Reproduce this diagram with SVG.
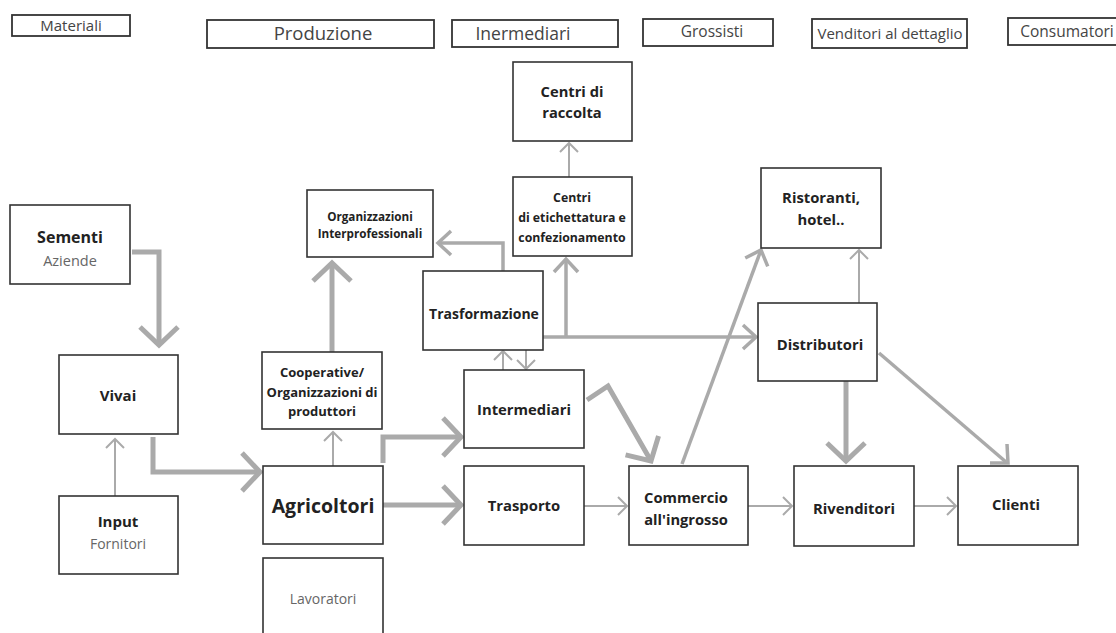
<svg xmlns="http://www.w3.org/2000/svg" width="1116" height="633" viewBox="0 0 1116 633">
<style>
.box{fill:#fff;stroke:#333;stroke-width:1.6}
.hbox{fill:#fff;stroke:#333;stroke-width:1.8}
.ht{font-family:"Open Sans","Liberation Sans",sans-serif;fill:#444;text-anchor:middle}
.t{font-family:"Open Sans","Liberation Sans",sans-serif;font-weight:bold;fill:#222;text-anchor:middle}
.s{font-family:"Open Sans","Liberation Sans",sans-serif;fill:#666;text-anchor:middle}
.c{fill:none;stroke:#aaa;stroke-linejoin:miter}
.k{stroke-width:5}
.m{stroke-width:3.5}
.n{stroke-width:2}
</style>
<defs>
<marker id="big" markerUnits="userSpaceOnUse" markerWidth="60" markerHeight="60" viewBox="-30 -30 60 60" refX="0" refY="0" orient="auto" overflow="visible"><path d="M-18,-19 L0,0 L-18,19" fill="none" stroke="#aaa" stroke-width="5"/></marker>
<marker id="mid" markerUnits="userSpaceOnUse" markerWidth="40" markerHeight="40" viewBox="-20 -20 40 40" refX="0" refY="0" orient="auto" overflow="visible"><path d="M-13,-12 L0,0 L-13,12" fill="none" stroke="#aaa" stroke-width="3.5"/></marker>
<marker id="sm" markerUnits="userSpaceOnUse" markerWidth="30" markerHeight="30" viewBox="-15 -15 30 30" refX="0" refY="0" orient="auto" overflow="visible"><path d="M-9,-9 L0,0 L-9,9" fill="none" stroke="#aaa" stroke-width="2"/></marker>
</defs>

<g id="headers">
<g id="h-materiali"><rect class="hbox" x="12" y="15" width="118" height="21"/><text class="ht" x="71" y="31" font-size="15">Materiali</text></g>
<g id="h-produzione"><rect class="hbox" x="207" y="20" width="227" height="28"/><text class="ht" x="323" y="40" font-size="18.5">Produzione</text></g>
<g id="h-inermediari"><rect class="hbox" x="452" y="20" width="166" height="27"/><text class="ht" x="523" y="40" font-size="17.5">Inermediari</text></g>
<g id="h-grossisti"><rect class="hbox" x="643" y="19" width="130" height="27"/><text class="ht" x="712" y="37" font-size="15.5">Grossisti</text></g>
<g id="h-venditori"><rect class="hbox" x="812" y="19" width="155" height="29"/><text class="ht" x="890" y="39" font-size="15">Venditori al dettaglio</text></g>
<g id="h-consumatori"><rect class="hbox" x="1008" y="18" width="120" height="27"/><text class="ht" x="1067" y="37" font-size="15.5">Consumatori</text></g>
</g>

<g id="connectors">
<polyline class="c k" points="132,252 159,252 159,345" marker-end="url(#big)"/>
<line class="c n" x1="115" y1="496" x2="115" y2="439" marker-end="url(#sm)"/>
<polyline class="c k" points="153,437 153,472 260,472" marker-end="url(#big)"/>
<line class="c n" x1="333" y1="466" x2="333" y2="432" marker-end="url(#sm)"/>
<line class="c k" x1="332" y1="352" x2="332" y2="263" marker-end="url(#big)"/>
<polyline class="c m" points="503,271 503,243 438,243" marker-end="url(#mid)"/>
<polyline class="c m" points="543,337 756,337" marker-end="url(#mid)"/>
<line class="c m" x1="566" y1="337" x2="566" y2="259" marker-end="url(#mid)"/>
<line class="c n" x1="569" y1="177" x2="569" y2="143" marker-end="url(#sm)"/>
<line class="c n" x1="503" y1="370" x2="503" y2="351" marker-end="url(#sm)"/>
<line class="c n" x1="526" y1="350" x2="526" y2="369" marker-end="url(#sm)"/>
<polyline class="c k" points="383,463 383,437 461,437" marker-end="url(#big)"/>
<line class="c k" x1="383" y1="505" x2="461" y2="505" marker-end="url(#big)"/>
<polyline class="c k" points="587,400 608,386 651,461" marker-end="url(#big)"/>
<line class="c n" x1="584" y1="506" x2="627" y2="506" marker-end="url(#sm)"/>
<line class="c m" x1="682" y1="464" x2="761" y2="250" marker-end="url(#mid)"/>
<line class="c n" x1="748" y1="506" x2="792" y2="506" marker-end="url(#sm)"/>
<line class="c n" x1="859" y1="303" x2="859" y2="250" marker-end="url(#sm)"/>
<line class="c k" x1="846" y1="381" x2="846" y2="461" marker-end="url(#big)"/>
<line class="c m" x1="879" y1="353" x2="1006" y2="462"/>
<polyline class="c m" points="990,463 1008,463 1007,444"/>
<line class="c n" x1="914" y1="506" x2="956" y2="506" marker-end="url(#sm)"/>
</g>

<g id="sementi"><rect class="box" x="10" y="205" width="120" height="79"/><text class="t" x="70" y="243" font-size="16">Sementi</text><text class="s" x="70" y="266" font-size="14.5">Aziende</text></g>
<g id="vivai"><rect class="box" x="59" y="355" width="119" height="79"/><text class="t" x="118" y="401" font-size="15">Vivai</text></g>
<g id="input"><rect class="box" x="59" y="496" width="119" height="78"/><text class="t" x="118" y="527" font-size="15">Input</text><text class="s" x="118" y="549" font-size="14">Fornitori</text></g>
<g id="agricoltori"><rect class="box" x="263" y="466" width="120" height="78"/><text class="t" x="323" y="513" font-size="19.5">Agricoltori</text></g>
<g id="lavoratori"><rect class="box" x="263" y="558" width="120" height="90"/><text class="s" x="323" y="604" font-size="14">Lavoratori</text></g>
<g id="cooperative"><rect class="box" x="262" y="352" width="120" height="77"/><text class="t" x="322" y="377" font-size="13">Cooperative/</text><text class="t" x="322" y="397" font-size="13">Organizzazioni di</text><text class="t" x="322" y="416" font-size="13">produttori</text></g>
<g id="interprofessionali"><rect class="box" x="307" y="190" width="126" height="67"/><text class="t" x="370" y="221" font-size="11.7">Organizzazioni</text><text class="t" x="370" y="238" font-size="11.7">Interprofessionali</text></g>
<g id="trasformazione"><rect class="box" x="423" y="271" width="120" height="79"/><text class="t" x="484" y="319" font-size="14">Trasformazione</text></g>
<g id="intermediari"><rect class="box" x="464" y="370" width="120" height="78"/><text class="t" x="524" y="415" font-size="14.8">Intermediari</text></g>
<g id="etichettatura"><rect class="box" x="513" y="177" width="119" height="79"/><text class="t" x="572" y="202" font-size="12.3">Centri</text><text class="t" x="572" y="222" font-size="12.3">di etichettatura e</text><text class="t" x="572" y="242" font-size="12.3">confezionamento</text></g>
<g id="raccolta"><rect class="box" x="513" y="62" width="119" height="79"/><text class="t" x="572" y="97" font-size="14.7">Centri di</text><text class="t" x="572" y="118" font-size="14.7">raccolta</text></g>
<g id="ristoranti"><rect class="box" x="761" y="168" width="120" height="80"/><text class="t" x="821" y="203" font-size="14.8">Ristoranti,</text><text class="t" x="821" y="225" font-size="14.8">hotel..</text></g>
<g id="distributori"><rect class="box" x="758" y="303" width="119" height="78"/><text class="t" x="820" y="350" font-size="14.8">Distributori</text></g>
<g id="trasporto"><rect class="box" x="464" y="466" width="120" height="79"/><text class="t" x="524" y="511" font-size="14.8">Trasporto</text></g>
<g id="commercio"><rect class="box" x="629" y="466" width="119" height="79"/><text class="t" x="686" y="503" font-size="14.7">Commercio</text><text class="t" x="686" y="525" font-size="14.7">all'ingrosso</text></g>
<g id="rivenditori"><rect class="box" x="794" y="466" width="120" height="80"/><text class="t" x="854" y="514" font-size="14.8">Rivenditori</text></g>
<g id="clienti"><rect class="box" x="958" y="466" width="120" height="79"/><text class="t" x="1016" y="510" font-size="14.8">Clienti</text></g>
</svg>
